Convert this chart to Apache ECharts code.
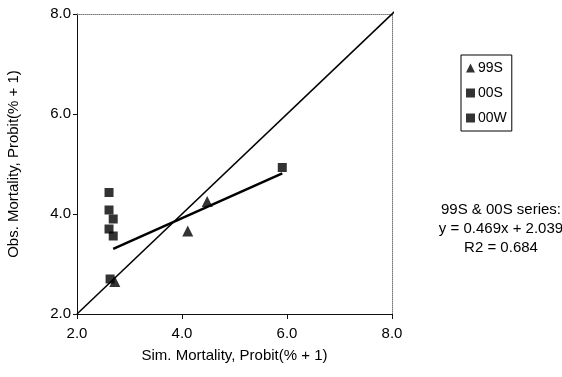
<!DOCTYPE html>
<html lang="en">
<head>
    <meta charset="UTF-8">
    <title>Obs vs Sim Mortality</title>
    <script src="https://cdn.jsdelivr.net/npm/echarts@6/dist/echarts.min.js"></script>
</head>
<body style="margin:0; background:#fff;">
<div id="chart" style="width:562px; height:377px;"></div>
<script type="text/javascript">
    // points: [sim, obs]
    var s99S = [[2.72, 2.65], [4.11, 3.66], [4.48, 4.25]]
    var s00S = [[2.69, 3.90], [2.69, 3.56], [5.91, 4.93]]
    var s00W = [[2.61, 4.43], [2.61, 4.08], [2.61, 3.70], [2.63, 2.70]]
    var axisTicks = [2.0, 4.0, 6.0, 8.0]
    var slope = 0.469, intercept = 2.039
    var noteLines = ['99S & 00S series:', 'y = 0.469x + 2.039', 'R2 = 0.684']

    var font = 'Liberation Sans, Arial, sans-serif'

    // trend line over the x range of 99S & 00S
    var fitXs = s99S.concat(s00S).map(function (p) { return p[0] })
    var x0 = Math.min.apply(null, fitXs), x1 = Math.max.apply(null, fitXs)
    var trend = [[x0, slope * x0 + intercept], [x1, slope * x1 + intercept]]
    var oneToOne = [[axisTicks[0], axisTicks[0]], [8.3, 8.3]]

    var lab = function (v) { return v.toFixed(1) }

    var option = {
        animation: false,
        backgroundColor: '#fff',
        textStyle: { fontFamily: font },
        grid: { left: 77, right: 170, top: 14, bottom: 63, outerBoundsMode: 'none' },
        legend: {
            data: [
                { name: '99S', icon: 'triangle' },
                { name: '00S', icon: 'rect' },
                { name: '00W', icon: 'rect' }
            ],
            orient: 'vertical',
            left: 461, top: 55,
            padding: [6, 5, 6, 5],
            itemGap: 11,
            itemWidth: 9, itemHeight: 9,
            borderColor: '#000', borderWidth: 1,
            textStyle: { fontSize: 14, color: '#000', fontFamily: font, padding: [0, 0, 0, -2] }
        },
        xAxis: [{
            type: 'value', min: 2, max: 8, interval: 2,
            name: 'Sim. Mortality, Probit(% + 1)',
            nameLocation: 'middle', nameGap: 34,
            nameTextStyle: { fontSize: 15, color: '#000', fontFamily: font },
            axisLine: { lineStyle: { color: '#111', width: 1 } },
            axisTick: { show: true, length: 5, lineStyle: { color: '#111' } },
            axisLabel: { formatter: lab, fontSize: 15, color: '#000', margin: 12 },
            splitLine: { show: false }
        }, {
            type: 'value', min: 2, max: 8, position: 'top',
            axisLine: { show: true, lineStyle: { color: '#777', type: 'dotted', width: 1 } },
            axisTick: { show: false }, axisLabel: { show: false }, splitLine: { show: false }
        }],
        yAxis: [{
            type: 'value', min: 2, max: 8, interval: 2,
            name: 'Obs. Mortality, Probit(% + 1)',
            nameLocation: 'middle', nameGap: 56,
            nameTextStyle: { fontSize: 15, color: '#000', fontFamily: font },
            axisLine: { show: true, lineStyle: { color: '#111', width: 1 } },
            axisTick: { show: true, length: 4, lineStyle: { color: '#111' } },
            axisLabel: { formatter: lab, fontSize: 15, color: '#000', margin: 6 },
            splitLine: { show: false }
        }, {
            type: 'value', min: 2, max: 8, position: 'right',
            axisLine: { show: true, lineStyle: { color: '#777', type: 'dotted', width: 1 } },
            axisTick: { show: false }, axisLabel: { show: false }, splitLine: { show: false }
        }],
        graphic: noteLines.map(function (t, i) {
            return {
                type: 'text', x: 501, y: 202 + i * 19,
                style: { text: t, fontSize: 15, fill: '#000', fontFamily: font, align: 'center' }
            }
        }),
        series: [
            {
                name: '1:1', type: 'line', data: oneToOne, clip: false, symbol: 'none',
                lineStyle: { color: '#000', width: 1.5 }, z: 1
            },
            {
                name: 'fit', type: 'line', data: trend, symbol: 'none',
                lineStyle: { color: '#000', width: 2.5 }, z: 1
            },
            {
                name: '99S', type: 'scatter', data: s99S, symbol: 'triangle', symbolSize: 11,
                itemStyle: { color: '#000' }, z: 3
            },
            {
                name: '00S', type: 'scatter', data: s00S, symbol: 'rect', symbolSize: 9,
                itemStyle: { color: '#000' }, z: 3
            },
            {
                name: '00W', type: 'scatter', data: s00W, symbol: 'rect', symbolSize: 9,
                itemStyle: { color: '#000' }, z: 3
            }
        ]
    };

    var myChart = echarts.init(document.getElementById('chart'));
    myChart.setOption(option);
</script>
</body>
</html>
